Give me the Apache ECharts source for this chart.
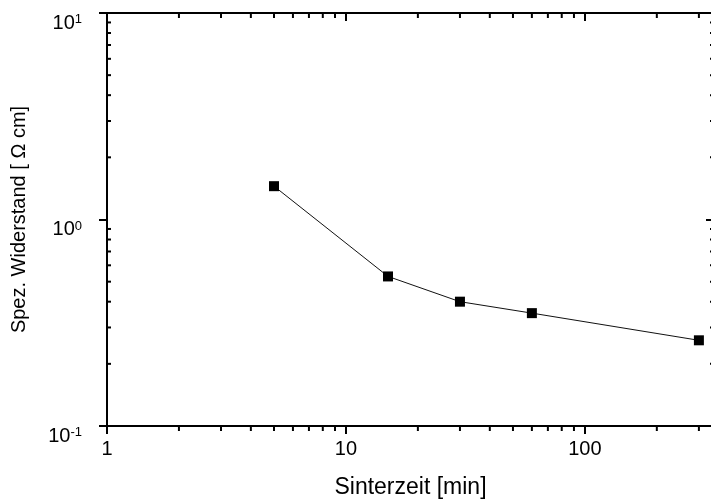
<!DOCTYPE html>
<html>
<head>
<meta charset="utf-8">
<style>
  html, body { margin: 0; padding: 0; background: #fff; }
  #main { width: 711px; height: 502px; }
</style>
<script src="https://cdn.jsdelivr.net/npm/echarts@6/dist/echarts.min.js"></script>
</head>
<body>
<div id="main"></div>
<script>
// Sinterzeit [min] und spez. Widerstand [Ohm cm]
var sinterzeit = [5, 15, 30, 60, 300];
var widerstand = [1.45, 0.53, 0.40, 0.352, 0.26];

// Achsenbereich und Nebenteilstriche
var xMin = 1, xMax = 347;
var yMin = 0.1, yMax = 10;
var xMinor = [2, 3, 4, 5, 6, 7, 8, 9, 20, 30, 40, 50, 60, 70, 80, 90, 200, 300];
var yMinor = [0.2, 0.3, 0.4, 0.5, 0.6, 0.7, 0.8, 0.9, 2, 3, 4, 5, 6, 7, 8, 9];

var schrift = 'Liberation Sans, Arial, sans-serif';

var dom = document.getElementById('main');
var myChart = echarts.init(dom, null, { renderer: 'canvas' });

// kleine Teilstriche als custom series (Lage ueber die Achsen berechnet)
function teilstriche(werte, seite, laenge) {
  var daten = werte.map(function (v) {
    return (seite === 'bottom' || seite === 'top') ? [v, 1] : [1, v];
  });
  return {
    type: 'custom',
    xAxisIndex: 0,
    yAxisIndex: 0,
    clip: false,
    silent: true,
    z: 5,
    data: daten,
    renderItem: function (params, api) {
      var p, shape;
      if (seite === 'bottom') {
        p = api.coord([api.value(0), yMin]);
        shape = { x1: p[0], y1: p[1], x2: p[0], y2: p[1] + laenge };
      } else if (seite === 'top') {
        p = api.coord([api.value(0), yMax]);
        shape = { x1: p[0], y1: p[1], x2: p[0], y2: p[1] + laenge };
      } else if (seite === 'left') {
        p = api.coord([xMin, api.value(1)]);
        shape = { x1: p[0], y1: p[1], x2: p[0] + laenge, y2: p[1] };
      } else {
        p = api.coord([xMax, api.value(1)]);
        shape = { x1: p[0], y1: p[1], x2: p[0] - laenge, y2: p[1] };
      }
      return {
        type: 'line',
        shape: shape,
        style: { stroke: '#000', lineWidth: 2 }
      };
    }
  };
}

var option = {
  animation: false,
  backgroundColor: '#fff',
  grid: {
    left: 107,
    right: -3,
    top: 13,
    bottom: 76,
    containLabel: false,
    outerBoundsMode: 'none'
  },
  xAxis: [
    {
      type: 'log',
      logBase: 10,
      min: xMin,
      max: xMax,
      position: 'bottom',
      name: 'Sinterzeit [min]',
      nameLocation: 'middle',
      nameGap: 50,
      nameTextStyle: { color: '#000', fontSize: 23, fontFamily: schrift },
      axisLine: { lineStyle: { color: '#000', width: 2 } },
      axisTick: { inside: false, length: 8, lineStyle: { color: '#000', width: 2 } },
      axisLabel: {
        color: '#000',
        fontSize: 20,
        fontFamily: schrift,
        margin: 13,
        showMaxLabel: false,
        formatter: function (v) { return String(Math.round(v)); }
      },
      splitLine: { show: false }
    },
    {
      type: 'log',
      logBase: 10,
      min: xMin,
      max: xMax,
      position: 'top',
      axisLine: { lineStyle: { color: '#000', width: 2 } },
      axisTick: { inside: true, length: 8, lineStyle: { color: '#000', width: 2 } },
      axisLabel: { show: false },
      splitLine: { show: false }
    }
  ],
  yAxis: [
    {
      type: 'log',
      logBase: 10,
      min: yMin,
      max: yMax,
      position: 'left',
      name: 'Spez. Widerstand [ \u03A9 cm]',
      nameLocation: 'middle',
      nameGap: 78,
      nameTextStyle: { color: '#000', fontSize: 20, fontFamily: schrift },
      axisLine: { lineStyle: { color: '#000', width: 2 } },
      axisTick: { inside: false, length: 8, lineStyle: { color: '#000', width: 2 } },
      axisLabel: {
        color: '#000',
        margin: 25,
        verticalAlign: 'top',
        formatter: function (v) {
          var e = Math.round(Math.log(v) / Math.LN10);
          return '{b|10}{s|' + e + '}';
        },
        rich: {
          b: { fontSize: 20, fontFamily: schrift, color: '#000', lineHeight: 20 },
          s: { fontSize: 13, fontFamily: schrift, color: '#000', verticalAlign: 'top', lineHeight: 13 }
        }
      },
      splitLine: { show: false }
    },
    {
      type: 'log',
      logBase: 10,
      min: yMin,
      max: yMax,
      position: 'right',
      axisLine: { lineStyle: { color: '#000', width: 2 } },
      axisTick: { inside: true, length: 8, lineStyle: { color: '#000', width: 2 } },
      axisLabel: { show: false },
      splitLine: { show: false }
    }
  ],
  series: [
    {
      type: 'line',
      xAxisIndex: 0,
      yAxisIndex: 0,
      data: sinterzeit.map(function (x, i) { return [x, widerstand[i]]; }),
      symbol: 'rect',
      symbolSize: 10,
      lineStyle: { color: '#111', width: 1 },
      itemStyle: { color: '#000' },
      z: 10
    },
    teilstriche(xMinor, 'bottom', 5),
    teilstriche(xMinor, 'top', 5),
    teilstriche(yMinor, 'left', 4),
    teilstriche(yMinor, 'right', 4)
  ]
};

myChart.setOption(option);

window.addEventListener('resize', function () {
  myChart.resize();
});
</script>
</body>
</html>
